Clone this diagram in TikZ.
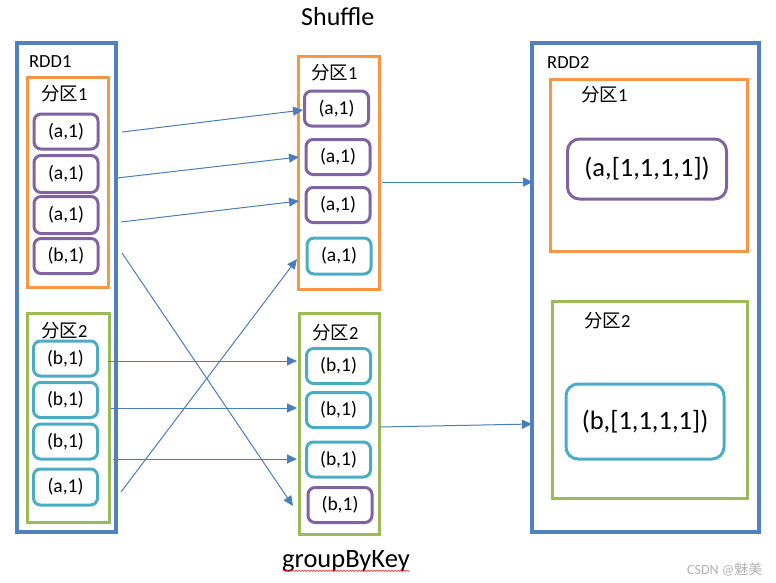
\documentclass[tikz,border=0pt]{standalone}
\usepackage{fontspec}
\setmainfont{Carlito}
\newfontfamily\cjk{Noto Sans CJK SC}
\usetikzlibrary{arrows.meta,decorations.pathmorphing}
\definecolor{rddblue}{HTML}{4F81BD}
\definecolor{orangec}{HTML}{F79646}
\definecolor{greenc}{HTML}{9BBB59}
\definecolor{purplec}{HTML}{8064A2}
\definecolor{tealc}{HTML}{4BACC6}
\definecolor{arrowc}{HTML}{4A7EBB}
\begin{document}
\begin{tikzpicture}[x=1pt,y=-1pt,
  rddbox/.style={draw=rddblue, line width=3.5pt, inner sep=0pt},
  partA/.style={draw=orangec, line width=3pt, inner sep=0pt},
  partB/.style={draw=greenc, line width=3pt, inner sep=0pt},
  itembase/.style={line width=3pt, rounded corners=7pt, inner sep=0pt,
    minimum width=64pt, minimum height=35pt, font=\fontsize{19.5}{21}\selectfont},
  itemP/.style={itembase, draw=purplec},
  itemT/.style={itembase, draw=tealc},
  bigbase/.style={line width=3pt, rounded corners=12pt, inner sep=0pt,
    font=\fontsize{26.5}{28}\selectfont},
  lbl/.style={anchor=base west, inner sep=0pt, font=\fontsize{18.5}{20}\selectfont},
  flow/.style={draw=arrowc, line width=1pt, -{Triangle[length=10pt,width=9pt]}}
]
\useasboundingbox (0,0) rectangle (776,582);

% outer RDD boxes
\node[rddbox, minimum width=99pt, minimum height=489pt] (rdd1) at (66.5,287.5) {};
\node[rddbox, minimum width=227pt, minimum height=489pt] (rdd2) at (645.5,287.5) {};

% partitions
\node[partA, minimum width=80.5pt, minimum height=210pt] (r1p1) at (67.75,182) {};
\node[partB, minimum width=81.5pt, minimum height=208.5pt] (r1p2) at (68.25,417.75) {};
\node[partA, minimum width=81pt, minimum height=233pt] (mp1) at (338.5,172.5) {};
\node[partB, minimum width=80.5pt, minimum height=221pt] (mp2) at (339.25,423.5) {};
\node[partA, minimum width=197pt, minimum height=172pt] (r2p1) at (648.5,165) {};
\node[partB, minimum width=195pt, minimum height=197pt] (r2p2) at (649.5,399.5) {};

% labels
\node[lbl] (t1) at (29,67) {RDD1};
\node[lbl] (t2) at (547,68) {RDD2};
\node[lbl] (l1) at (41,100) {{\cjk 分区}1};
\node[lbl] (l2) at (41,337) {{\cjk 分区}2};
\node[lbl] (l3) at (311,79) {{\cjk 分区}1};
\node[lbl] (l4) at (312,339) {{\cjk 分区}2};
\node[lbl] (l5) at (581,101) {{\cjk 分区}1};
\node[lbl] (l6) at (584,327) {{\cjk 分区}2};
\node[lbl, font=\fontsize{26}{28}\selectfont] (shuf) at (301,25) {Shuffle};
\node[lbl, font=\fontsize{26.5}{28}\selectfont] (gbk) at (282,567) {groupByKey};
\node[lbl, text=black!30, font=\fontsize{14}{16}\selectfont] (wm) at (687,574) {CSDN @{\cjk 魅美}};
\draw[red!85, line width=0.5pt, decorate, decoration={snake, amplitude=0.7pt, segment length=3pt}]
  (gbk.south west) ++(1,-1) coordinate (sq1) -- (gbk.south east |- sq1) coordinate (sq2);

% RDD1 items
\node[itemP] (a1) at (66,131.5) {(a,1)};
\node[itemP, minimum height=37pt] (a2) at (66,174) {(a,1)};
\node[itemP, minimum height=37pt] (a3) at (66,215) {(a,1)};
\node[itemP] (a4) at (66,256) {(b,1)};
\node[itemT] (b1) at (65.5,358.5) {(b,1)};
\node[itemT] (b2) at (65.5,400) {(b,1)};
\node[itemT] (b3) at (65.5,441.5) {(b,1)};
\node[itemT, minimum height=36pt] (b4) at (65.5,487) {(a,1)};

% shuffled items
\node[itemP] (m1) at (336.5,108.5) {(a,1)};
\node[itemP] (m2) at (338,157) {(a,1)};
\node[itemP] (m3) at (338,205) {(a,1)};
\node[itemT, minimum height=36pt] (m4) at (339,256) {(a,1)};
\node[itemT] (n1) at (338.5,366) {(b,1)};
\node[itemT] (n2) at (338.5,410) {(b,1)};
\node[itemT] (n3) at (338.5,459.5) {(b,1)};
\node[itemP] (n4) at (340,505) {(b,1)};

% RDD2 items
\node[bigbase, draw=purplec, minimum width=159pt, minimum height=60pt] (g1) at (647,169) {(a,[1,1,1,1])};
\node[bigbase, draw=tealc, minimum width=158pt, minimum height=75pt] (g2) at (645,421.5) {(b,[1,1,1,1])};

% connector end points
\coordinate (s1) at (122,132); \coordinate (e1) at (303,110);
\coordinate (s2) at (117,178); \coordinate (e2) at (299,157);
\coordinate (s3) at (121,222); \coordinate (e3) at (299,201);
\coordinate (s4) at (122,253); \coordinate (e4) at (293,506);
\coordinate (s5) at (108,361); \coordinate (e5) at (297,361);
\coordinate (s6) at (111,408); \coordinate (e6) at (297,408);
\coordinate (s7) at (113,459); \coordinate (e7) at (297,459);
\coordinate (s8) at (121,492); \coordinate (e8) at (297,259);
\coordinate (s9) at (382,182); \coordinate (e9) at (533,182);
\coordinate (s10) at (380,427); \coordinate (e10) at (532,424);

\foreach \i in {1,...,10} { \draw[flow] (s\i) -- (e\i); }
\end{tikzpicture}
\end{document}
